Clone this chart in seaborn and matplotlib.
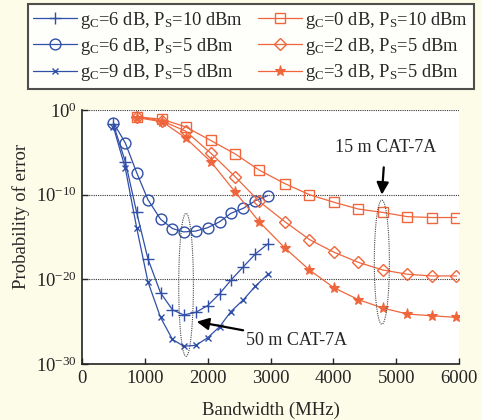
import numpy as np
import pandas as pd
import matplotlib
matplotlib.use('Agg')
import matplotlib.pyplot as plt
import seaborn as sns

# bandwidth sample points (MHz)
bw_blue = [500, 690, 870, 1050, 1250, 1440, 1620, 1810, 2000, 2190, 2370, 2570, 2760, 2960]
bw_orange = [880, 1280, 1650, 2050, 2440, 2820, 3230, 3620, 4010, 4400, 4790, 5180, 5570, 5960]

# log10 of probability of error
pe_g6_p10 = [-1.7, -6.1, -12.1, -17.6, -21.6, -23.6, -24.2, -23.9, -23.1, -21.7, -20.1, -18.5, -17.0, -15.8]
pe_g6_p5 = [-1.5, -3.9, -7.4, -10.6, -12.9, -14.0, -14.4, -14.3, -13.9, -13.2, -12.2, -11.6, -10.7, -10.1]
pe_g9_p5 = [-2.0, -6.9, -13.9, -20.3, -24.5, -27.1, -27.9, -27.8, -26.9, -25.6, -23.8, -22.4, -20.8, -19.4]
pe_g0_p10 = [-0.8, -1.1, -2.0, -3.6, -5.2, -7.1, -8.7, -10.0, -10.9, -11.7, -12.1, -12.6, -12.7, -12.7]
pe_g2_p5 = [-0.8, -1.3, -2.5, -5.1, -7.9, -10.8, -13.2, -15.3, -16.8, -18.0, -18.9, -19.4, -19.6, -19.6]
pe_g3_p5 = [-0.9, -1.4, -3.3, -6.1, -9.7, -13.2, -16.3, -18.9, -21.0, -22.4, -23.4, -24.1, -24.3, -24.5]

labels = [r'g$_C$=6 dB, P$_S$=10 dBm', r'g$_C$=6 dB, P$_S$=5 dBm', r'g$_C$=9 dB, P$_S$=5 dBm',
          r'g$_C$=0 dB, P$_S$=10 dBm', r'g$_C$=2 dB, P$_S$=5 dBm', r'g$_C$=3 dB, P$_S$=5 dBm']

blue = '#2f4fa8'
orange = '#f0663c'
bg = '#fdfce9'

sns.set_style('ticks')
plt.rcParams['font.family'] = ['Liberation Serif', 'DejaVu Serif']
plt.rcParams['mathtext.fontset'] = 'custom'
plt.rcParams['mathtext.rm'] = 'Liberation Serif'
plt.rcParams['mathtext.it'] = 'Liberation Serif:italic'
plt.rcParams['mathtext.default'] = 'regular'

fig = plt.figure(figsize=(4.82, 4.2), dpi=100, facecolor=bg)
ax = fig.add_axes([82/482, 1-364/420, 377/482, 254/420])

series = [
    (bw_blue, pe_g6_p10, blue, '+', dict(markersize=8.5, markeredgewidth=1.0)),
    (bw_blue, pe_g6_p5, blue, 'o', dict(markersize=7.8, markerfacecolor='none', markeredgewidth=1.0)),
    (bw_blue, pe_g9_p5, blue, 'x', dict(markersize=4.5, markeredgewidth=1.0)),
    (bw_orange, pe_g0_p10, orange, 's', dict(markersize=7.2, markerfacecolor='none', markeredgewidth=1.0)),
    (bw_orange, pe_g2_p5, orange, 'D', dict(markersize=6.2, markerfacecolor='none', markeredgewidth=1.0)),
    (bw_orange, pe_g3_p5, orange, '*', dict(markersize=8, markeredgewidth=0.8)),
]

for (xs, ys, col, mk, kw), lab in zip(series, labels):
    df = pd.DataFrame({'bw': xs, 'pe': 10.0 ** np.array(ys)})
    sns.lineplot(data=df, x='bw', y='pe', ax=ax, color=col, marker=mk, markeredgecolor=col,
                 linewidth=0.9, label=lab, **kw)

ax.set_yscale('log')
ax.set_xlim(0, 6000)
ax.set_ylim(1e-30, 1e0)
ax.set_xticks([0, 1000, 2000, 3000, 4000, 5000, 6000])
ax.set_yticks([1e-30, 1e-20, 1e-10, 1e0])
ax.set_yticklabels([r'$10^{-30}$', r'$10^{-20}$', r'$10^{-10}$', r'$10^{0}$'])
ax.minorticks_off()
ax.tick_params(direction='in', labelsize=13.5, length=4, width=1, pad=4)
for s in ['top', 'right']:
    ax.spines[s].set_visible(False)
for s in ['left', 'bottom']:
    ax.spines[s].set_linewidth(1.2)
    ax.spines[s].set_color('#222222')
for yv in [1e0, 1e-10, 1e-20]:
    ax.axhline(yv, color='#333333', linestyle=(0, (1, 1)), linewidth=0.8, zorder=0)

ax.set_xlabel('Bandwidth (MHz)', fontsize=13.5)
ax.xaxis.set_label_coords(0.5, -0.15)
ax.set_ylabel('Probability of error', fontsize=13.5)
ax.yaxis.set_label_coords(-0.138, 0.58)

# dotted ellipses marking the cable lengths
t = np.linspace(0, 2 * np.pi, 200)
for cx, a, ytop, ybot in [(4772, 120, -10.65, -25.3), (1656, 117, -12.2, -29.1)]:
    cy = (ytop + ybot) / 2
    b = (ytop - ybot) / 2
    ax.plot(cx + a * np.cos(t), 10.0 ** (cy + b * np.sin(t)), color='#444444',
            linestyle=(0, (1, 1)), linewidth=0.8)

ax.annotate('15 m CAT-7A', xy=(4772, 10 ** -10.0), xytext=(4825, 10 ** -4.4),
            ha='center', va='center', fontsize=13,
            arrowprops=dict(arrowstyle='-|>', color='black', lw=1.6, mutation_scale=18,
                            shrinkA=6, shrinkB=0))
ax.annotate('50 m CAT-7A', xy=(1826, 10 ** -25.0), xytext=(3420, 10 ** -27.2),
            ha='center', va='center', fontsize=13,
            arrowprops=dict(arrowstyle='-|>', color='black', lw=1.6, mutation_scale=18,
                            shrinkA=0, shrinkB=0))

handles, labs = ax.get_legend_handles_labels()
ax.get_legend().remove()
leg = fig.legend(handles, labs, ncol=2, loc='upper center', bbox_to_anchor=(0.52, 0.99),
                 fontsize=13.3, frameon=True, fancybox=False, edgecolor='#222222',
                 handlelength=2.4, columnspacing=0.8, handletextpad=0.15, labelspacing=0.28,
                 borderpad=0.3, borderaxespad=0)
leg.get_frame().set_linewidth(1.5)
leg.get_frame().set_facecolor('white')

fig.savefig('out.png', dpi=100, facecolor=bg)
